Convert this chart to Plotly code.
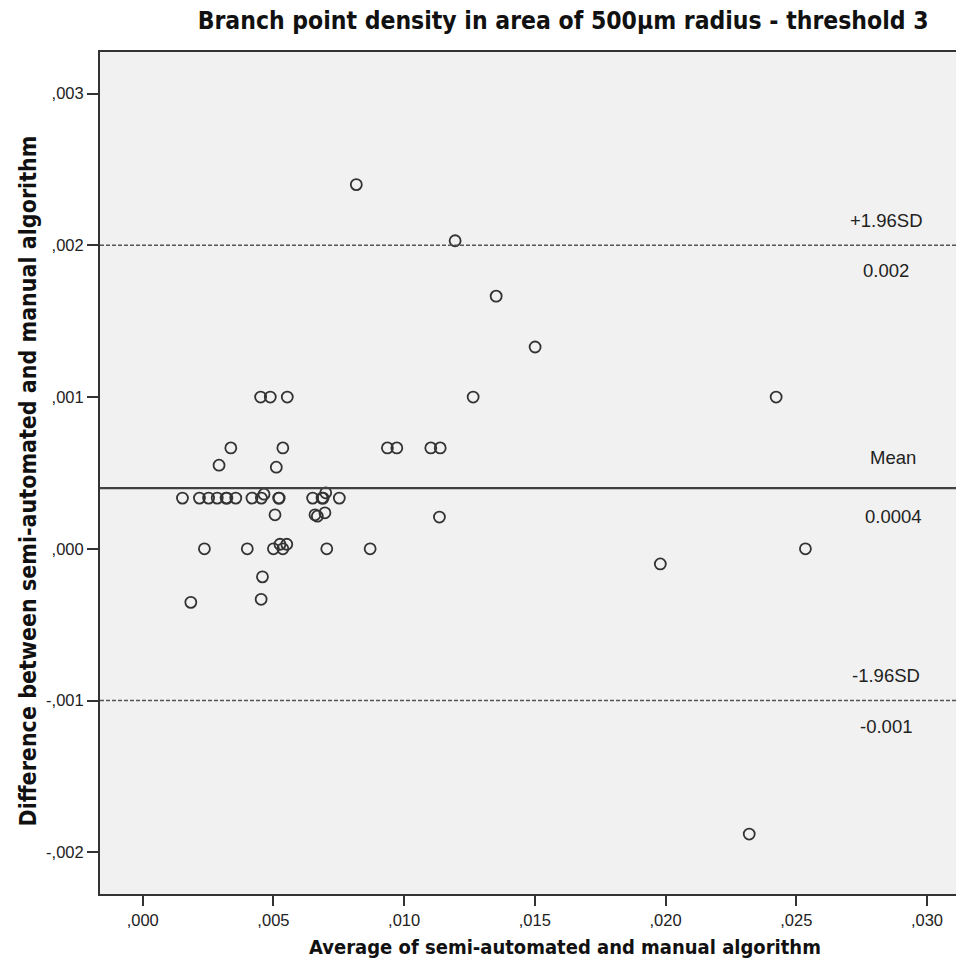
import plotly.graph_objects as go

# Bland-Altman data
avg_vals = [0.00817, 0.01195, 0.01352, 0.01501, 0.01264, 0.02423,
            0.00451, 0.00488, 0.00553, 0.00337, 0.00536, 0.00936,
            0.00972, 0.01102, 0.01138, 0.00292, 0.00511, 0.00152,
            0.00217, 0.00252, 0.00285, 0.00319, 0.00322, 0.00356,
            0.00418, 0.00454, 0.00464, 0.00520, 0.00522, 0.00650,
            0.00686, 0.00690, 0.00700, 0.00752, 0.00506, 0.00659,
            0.00668, 0.00697, 0.01135, 0.00236, 0.00400, 0.00500,
            0.00536, 0.00525, 0.00551, 0.00704, 0.00870, 0.02535,
            0.01980, 0.00458, 0.00184, 0.00453, 0.02320]
diff_vals = [0.00240, 0.00203, 0.001665, 0.00133, 0.00100, 0.00100,
             0.00100, 0.00100, 0.00100, 0.000665, 0.000665, 0.000665,
             0.000665, 0.000665, 0.000665, 0.000551, 0.000538, 0.000334,
             0.000334, 0.000334, 0.000334, 0.000334, 0.000334, 0.000334,
             0.000334, 0.000334, 0.000360, 0.000334, 0.000334, 0.000334,
             0.000334, 0.000334, 0.000369, 0.000334, 0.000224, 0.000224,
             0.000215, 0.000237, 0.000209, 0.0, 0.0, 0.0,
             0.0, 0.00003, 0.00003, 0.0, 0.0, 0.0,
             -0.00010, -0.000185, -0.000353, -0.000333, -0.00188]

mean_diff = 0.0004
upper_loa = 0.002
lower_loa = -0.001

ref_names = ["+1.96SD", "Mean", "-1.96SD"]
ref_values_text = ["0.002", "0.0004", "-0.001"]
ref_levels = [upper_loa, mean_diff, lower_loa]

x_tickvals = [0.0, 0.005, 0.010, 0.015, 0.020, 0.025, 0.030]
x_ticktext = [",000", ",005", ",010", ",015", ",020", ",025", ",030"]
y_tickvals = [-0.002, -0.001, 0.0, 0.001, 0.002, 0.003]
y_ticktext = ["-,002", "-,001", ",000", ",001", ",002", ",003"]

x_range = [-0.001634, 0.03111]
y_range = [-0.002275, 0.003274]

title_font = "Liberation Sans Narrow, Arial Narrow, DejaVu Sans Condensed, sans-serif"
body_font = "Liberation Sans, Arial, sans-serif"

fig = go.Figure()
fig.add_trace(go.Scatter(
    x=avg_vals, y=diff_vals, mode="markers",
    marker=dict(symbol="circle-open", size=11, color="#333333",
                line=dict(width=1.8, color="#333333")),
    showlegend=False, cliponaxis=False))

for lvl, name in zip(ref_levels, ref_names):
    solid = name == "Mean"
    fig.add_trace(go.Scatter(
        x=x_range, y=[lvl, lvl], mode="lines",
        line=dict(color="#404040" if solid else "#555555",
                  width=2.2 if solid else 1.6,
                  dash="solid" if solid else "4px,2px"),
        showlegend=False, hoverinfo="skip"))

label_font = dict(family=body_font, size=18.5, color="#222222")
for lvl, name, val in zip(ref_levels, ref_names, ref_values_text):
    is_mean = name == "Mean"
    lx = 0.0287 if is_mean else 0.02845
    fig.add_annotation(x=lx, y=lvl, text=name, showarrow=False,
                       xref="x", yref="y", font=label_font,
                       yshift=31 if is_mean else 25)
    fig.add_annotation(x=lx, y=lvl, text=val, showarrow=False,
                       xref="x", yref="y", font=label_font,
                       yshift=-28 if is_mean else -25.5)

# axis titles as annotations for precise placement
fig.add_annotation(text="Average of semi-automated and manual algorithm",
                   xref="paper", yref="paper", x=0.543, y=-0.0635,
                   xanchor="center", yanchor="middle", showarrow=False,
                   font=dict(family=title_font, size=20, color="#111111", weight="bold"))
fig.add_annotation(text="Difference between semi-automated and manual algorithm",
                   xref="paper", yref="paper", x=-0.0841, y=0.49,
                   xanchor="center", yanchor="middle", showarrow=False, textangle=-90,
                   font=dict(family=title_font, size=23, color="#111111", weight="bold"))

fig.update_layout(
    width=956, height=964,
    margin=dict(l=100, r=0, t=52, b=70),
    paper_bgcolor="white",
    plot_bgcolor="#f1f1f1",
    title=dict(text="Branch point density in area of 500µm radius - threshold 3",
               x=0.589, xanchor="center", y=0.979, yanchor="middle",
               font=dict(family=title_font, size=24.5, color="#111111", weight="bold")),
    font=dict(family=body_font, size=16, color="#222222"),
)
fig.update_xaxes(
    range=x_range, tickvals=x_tickvals, ticktext=x_ticktext,
    showgrid=False, zeroline=False,
    showline=True, linecolor="#333333", linewidth=2, mirror=True,
    ticks="outside", ticklen=10, tickwidth=1.6, tickcolor="#333333",
    tickfont=dict(family=body_font, size=16.5, color="#222222"))
fig.update_yaxes(
    range=y_range, tickvals=y_tickvals, ticktext=y_ticktext,
    showgrid=False, zeroline=False,
    showline=True, linecolor="#333333", linewidth=2,
    ticks="outside", ticklen=11, tickwidth=1.6, tickcolor="#333333",
    tickfont=dict(family=body_font, size=16.5, color="#222222"))

fig.write_html("out.html", config={"displayModeBar": False},
               post_script="document.body.style.margin='0';document.body.style.overflow='hidden';")
